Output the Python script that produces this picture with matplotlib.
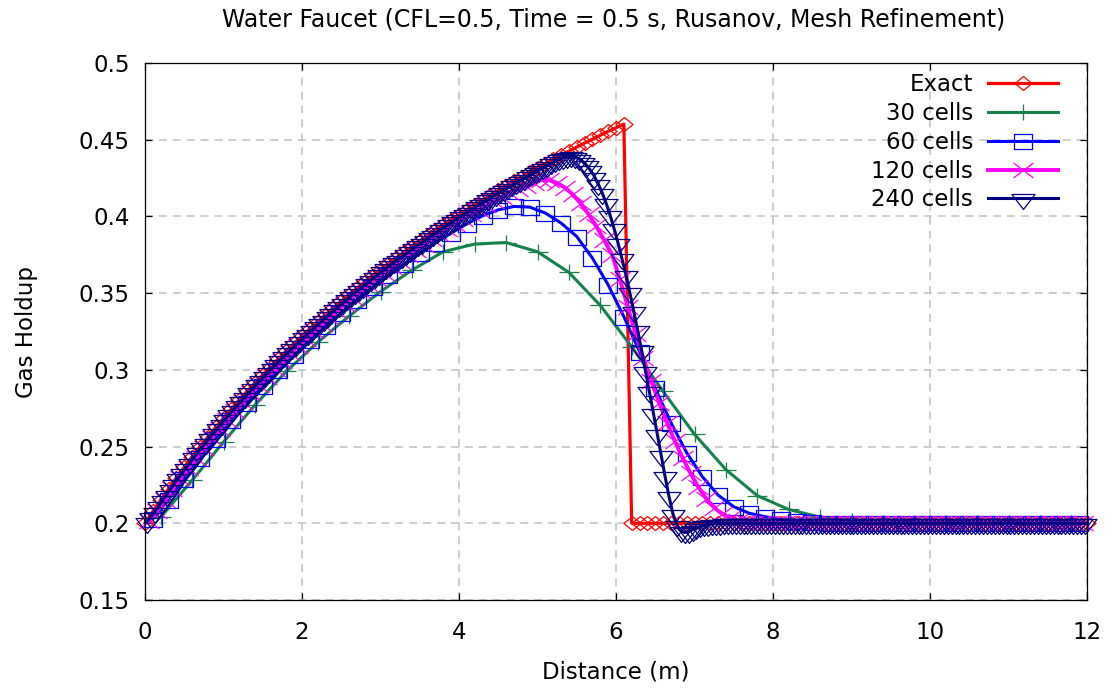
import numpy as np
import matplotlib
matplotlib.use('Agg')
import matplotlib.pyplot as plt
from matplotlib.path import Path

# ---------------------------------------
# Data (gas holdup)
# ---------------------------------------
labels = ['Exact', '30 cells', '60 cells', '120 cells', '240 cells']
cell_counts = [30, 60, 120, 240]

# exact solution, every 0.1 m from 0 to 12
exact_x = np.linspace(0, 12, 121)
exact_y = [
    0.2000, 0.2077, 0.2152, 0.2225, 0.2297, 0.2366, 0.2433, 0.2499, 0.2562, 0.2625,
    0.2685, 0.2745, 0.2802, 0.2859, 0.2914, 0.2968, 0.3021, 0.3072, 0.3123, 0.3172,
    0.3220, 0.3268, 0.3314, 0.3359, 0.3404, 0.3447, 0.3490, 0.3532, 0.3573, 0.3613,
    0.3653, 0.3692, 0.3730, 0.3767, 0.3804, 0.3840, 0.3876, 0.3911, 0.3945, 0.3979,
    0.4012, 0.4044, 0.4077, 0.4108, 0.4139, 0.4170, 0.4200, 0.4230, 0.4259, 0.4288,
    0.4316, 0.4344, 0.4372, 0.4399, 0.4425, 0.4452, 0.4478, 0.4503, 0.4529, 0.4554,
    0.4578, 0.4602,
] + [0.2] * 59

# values at the cell centres
holdup_30 = [
    0.204, 0.228, 0.253, 0.277, 0.299, 0.318, 0.335, 0.351, 0.365, 0.377,
    0.382, 0.383, 0.377, 0.3635, 0.342, 0.315, 0.286, 0.258, 0.235, 0.218,
    0.209, 0.204, 0.2015, 0.2005,
] + [0.2] * 6

holdup_60 = [
    0.2030, 0.2155, 0.2290, 0.2424, 0.2550, 0.2670, 0.2784, 0.2893, 0.2997, 0.3097,
    0.3193, 0.3284, 0.3372, 0.3457, 0.3538, 0.3615, 0.3689, 0.3760, 0.3830, 0.3891,
    0.3952, 0.4004, 0.4043, 0.4065, 0.4061, 0.4022, 0.3957, 0.3869, 0.3728, 0.3554,
    0.3347, 0.3119, 0.2880, 0.2656, 0.2460, 0.2304, 0.2184, 0.2108, 0.2065, 0.2043,
    0.2025, 0.2015, 0.2008, 0.2004, 0.2002,
] + [0.2] * 15

holdup_120 = [
    0.2014, 0.2080, 0.2149, 0.2221, 0.2292, 0.2360, 0.2426, 0.2491, 0.2554, 0.2615,
    0.2675, 0.2734, 0.2791, 0.2847, 0.2901, 0.2955, 0.3007, 0.3058, 0.3108, 0.3156,
    0.3204, 0.3251, 0.3297, 0.3342, 0.3386, 0.3429, 0.3471, 0.3513, 0.3553, 0.3593,
    0.3633, 0.3671, 0.3709, 0.3746, 0.3780, 0.3816, 0.3851, 0.3885, 0.3918, 0.3951,
    0.3983, 0.4014, 0.4044, 0.4073, 0.4101, 0.4128, 0.4154, 0.4178, 0.4200, 0.4220,
    0.4238, 0.4236, 0.4218, 0.4188, 0.4143, 0.4085, 0.4015, 0.3935, 0.3845, 0.3750,
    0.3590, 0.3410, 0.3235, 0.3075, 0.2925, 0.2785, 0.2655, 0.2535, 0.2425, 0.2325,
    0.2235, 0.2160, 0.2102, 0.2062, 0.2035, 0.2018, 0.2009, 0.2004, 0.2001,
] + [0.2] * 41

holdup_240 = [
    0.2009, 0.2043, 0.2076, 0.2113, 0.2150, 0.2187, 0.2223, 0.2259, 0.2294, 0.2329,
    0.2363, 0.2396, 0.2430, 0.2463, 0.2495, 0.2526, 0.2558, 0.2589, 0.2620, 0.2650,
    0.2680, 0.2710, 0.2739, 0.2768, 0.2796, 0.2825, 0.2853, 0.2880, 0.2908, 0.2935,
    0.2961, 0.2988, 0.3014, 0.3039, 0.3065, 0.3090, 0.3115, 0.3140, 0.3164, 0.3188,
    0.3212, 0.3236, 0.3260, 0.3283, 0.3305, 0.3328, 0.3350, 0.3373, 0.3395, 0.3416,
    0.3438, 0.3459, 0.3481, 0.3502, 0.3522, 0.3543, 0.3563, 0.3583, 0.3603, 0.3623,
    0.3643, 0.3662, 0.3682, 0.3701, 0.3719, 0.3738, 0.3756, 0.3775, 0.3793, 0.3811,
    0.3829, 0.3847, 0.3865, 0.3882, 0.3900, 0.3917, 0.3934, 0.3951, 0.3967, 0.3984,
    0.4000, 0.4016, 0.4032, 0.4049, 0.4065, 0.4080, 0.4096, 0.4111, 0.4127, 0.4142,
    0.4158, 0.4173, 0.4188, 0.4203, 0.4217, 0.4232, 0.4246, 0.4261, 0.4275, 0.4289,
    0.4303, 0.4317, 0.4331, 0.4345, 0.4359, 0.4372, 0.4383, 0.4390, 0.4392, 0.4388,
    0.4377, 0.4358, 0.4333, 0.4300, 0.4260, 0.4210, 0.4152, 0.4085, 0.4008, 0.3922,
    0.3828, 0.3727, 0.3620, 0.3505, 0.3385, 0.3260, 0.3130, 0.2995, 0.2860, 0.2722,
    0.2585, 0.2445, 0.2305, 0.2175, 0.2062, 0.1990, 0.1952, 0.1940, 0.1945, 0.1958,
    0.1970, 0.1980, 0.1987, 0.1992, 0.1995, 0.1997, 0.1998, 0.1999, 0.2000,
] + [0.2] * 91

colors = ['#ff0000', '#14824a', '#0000ff', '#ff00ff', '#000080']


# gnuplot-like point shapes (a bit wider than tall)
def marker_shapes():
    M, L, C = Path.MOVETO, Path.LINETO, Path.CLOSEPOLY
    diamond = Path([(-8.5, 0), (0, 7), (8.5, 0), (0, -7), (-8.5, 0)], [M, L, L, L, C])
    plus = Path([(-10, 0), (10, 0), (0, -8), (0, 8)], [M, L, M, L])
    square = Path([(-9, -7.5), (9, -7.5), (9, 7.5), (-9, 7.5), (-9, -7.5)], [M, L, L, L, C])
    cross = Path([(-10, -7.5), (10, 7.5), (-10, 7.5), (10, -7.5)], [M, L, M, L])
    tri = Path([(-11.5, 4), (11.5, 4), (0, -11), (-11.5, 4)], [M, L, L, C])
    # marker sizes in points (largest half-extent * 2, px -> pt)
    sizes = [17 * 0.72, 20 * 0.72, 18 * 0.72, 20 * 0.72, 23 * 0.72]
    return [diamond, plus, square, cross, tri], sizes


def cell_centres(n):
    return (np.arange(n) + 0.5) * 12.0 / n


def visualize():
    plt.rcParams['font.family'] = 'DejaVu Sans'
    plt.rcParams['font.size'] = 16

    fig = plt.figure(figsize=(11.1, 6.88), dpi=100)
    ax = fig.add_axes([145 / 1110, 88 / 688, 942 / 1110, 537 / 688])

    shapes, sizes = marker_shapes()
    series = [(exact_x, exact_y)]
    for n, vals in zip(cell_counts, [holdup_30, holdup_60, holdup_120, holdup_240]):
        series.append((cell_centres(n), vals))

    widths = [2.3, 2.2, 2.2, 2.8, 2.2]
    for (x, y), lab, col, shp, ms, lw in zip(series, labels, colors, shapes, sizes, widths):
        ax.plot(x, y, color=col, lw=lw, marker=shp, markersize=ms,
                markerfacecolor='none', markeredgecolor=col, markeredgewidth=0.9,
                label=lab, clip_on=False)

    ax.set_xlim(0, 12)
    ax.set_ylim(0.15, 0.5)
    ax.set_xticks(np.arange(0, 13, 2))
    ax.set_yticks([0.15, 0.2, 0.25, 0.3, 0.35, 0.4, 0.45, 0.5])
    ax.set_yticklabels(['0.15', '0.2', '0.25', '0.3', '0.35', '0.4', '0.45', '0.5'])
    ax.grid(True, color='#c0c0c0', lw=1.1, linestyle=(0, (5.2, 3.9)))
    ax.set_axisbelow(True)
    ax.tick_params(direction='in', length=5, width=0.9, top=True, right=True,
                   labelsize=16.5)
    ax.tick_params(axis='x', pad=15)
    ax.tick_params(axis='y', pad=11)
    for sp in ax.spines.values():
        sp.set_linewidth(0.9)

    ax.set_xlabel('Distance (m)', fontsize=16.5, labelpad=12)
    ax.set_ylabel('Gas Holdup', fontsize=16.5, labelpad=29)
    fig.text(614 / 1110, 1 - 20 / 688, 'Water Faucet (CFL=0.5, Time = 0.5 s, Rusanov, Mesh Refinement)',
             ha='center', va='center', fontsize=17)

    ax.legend(loc='upper right', bbox_to_anchor=(1058 / 1110, 1 - 73 / 688),
              bbox_transform=fig.transFigure, frameon=False, markerfirst=False,
              numpoints=1, fontsize=16.5, handlelength=3.05, handletextpad=0.66,
              labelspacing=0.255, borderpad=0, borderaxespad=0)

    fig.savefig('out.png', dpi=100)


if __name__ == '__main__':
    visualize()
